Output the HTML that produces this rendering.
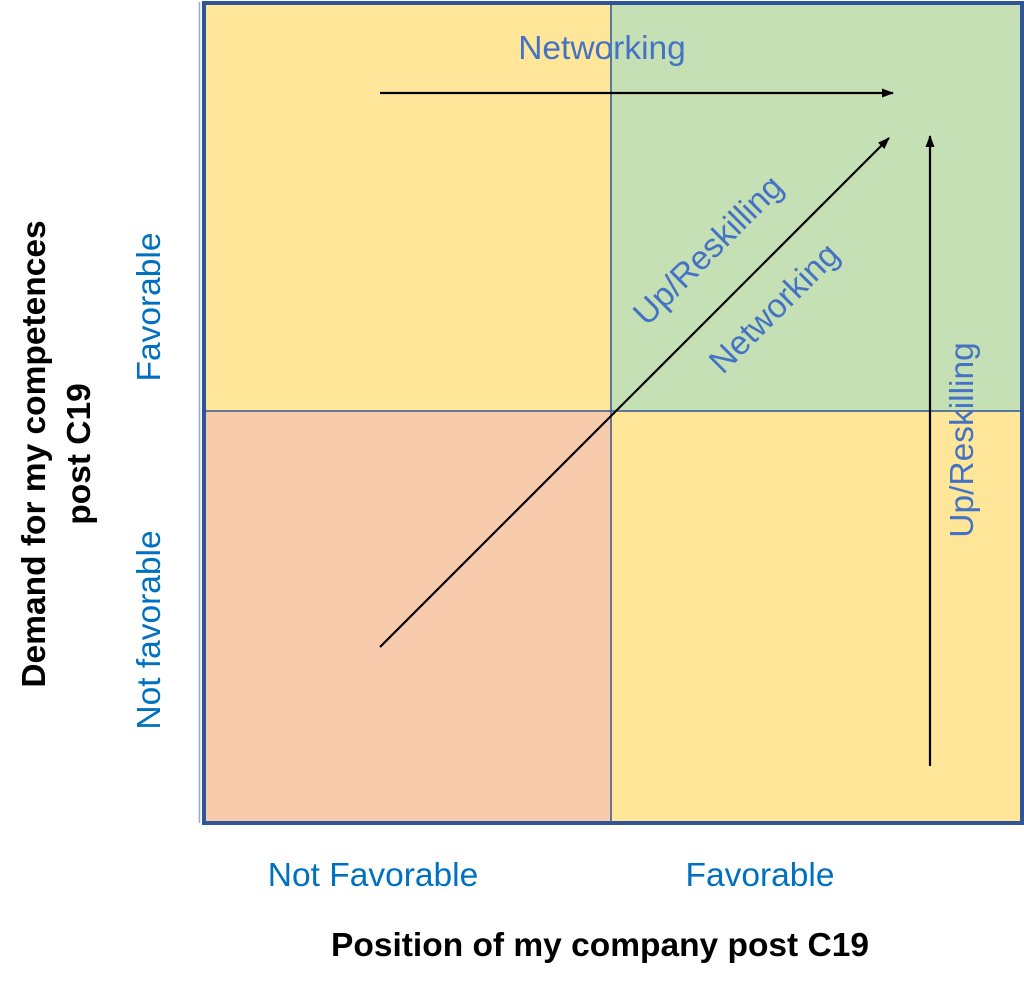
<!DOCTYPE html>
<html><head><style>
body{margin:0;background:#fff;}
</style></head><body>
<svg width="1024" height="986" xmlns="http://www.w3.org/2000/svg" style="display:block">
<defs><marker id="a" markerWidth="12" markerHeight="9" refX="11" refY="4.5" orient="auto" markerUnits="userSpaceOnUse"><path d="M0,0 L12,4.5 L0,9 z" fill="#000"/></marker></defs>
<rect x="206" y="5" width="405" height="406" fill="#FFE699"/>
<rect x="611" y="5" width="409" height="406" fill="#C5E0B4"/>
<rect x="206" y="411" width="405" height="410" fill="#F8CBAD"/>
<rect x="611" y="411" width="409" height="410" fill="#FFE699"/>
<line x1="611" y1="5" x2="611" y2="821" stroke="#2F5597" stroke-width="1.5"/>
<line x1="206" y1="411" x2="1020" y2="411" stroke="#2F5597" stroke-width="1.5"/>
<line x1="199.5" y1="2" x2="199.5" y2="823" stroke="#8FAADC" stroke-width="1.5"/>
<rect x="204" y="3" width="818" height="820" fill="none" stroke="#2F5597" stroke-width="4"/>
<line x1="380" y1="93" x2="893" y2="93" stroke="#000" stroke-width="2.2" marker-end="url(#a)"/>
<line x1="380" y1="647" x2="889" y2="138" stroke="#000" stroke-width="2.2" marker-end="url(#a)"/>
<line x1="930" y1="766" x2="930" y2="136" stroke="#000" stroke-width="2.2" marker-end="url(#a)"/>
<g font-family="Liberation Sans, sans-serif" font-size="33.5" fill="#4472C4" text-anchor="middle">
<text x="602" y="59">Networking</text>
<text transform="translate(716,258) rotate(-45)">Up/Reskilling</text>
<text transform="translate(782,316) rotate(-45)">Networking</text>
<text transform="translate(973,440) rotate(-90)">Up/Reskilling</text>
</g>
<g font-family="Liberation Sans, sans-serif" font-size="33.5" fill="#0070C0" text-anchor="middle">
<text transform="translate(160,307) rotate(-90)">Favorable</text>
<text transform="translate(160,630) rotate(-90)">Not favorable</text>
<text x="373" y="886">Not Favorable</text>
<text x="760" y="886">Favorable</text>
</g>
<g font-family="Liberation Sans, sans-serif" font-size="33.5" font-weight="bold" fill="#000" text-anchor="middle">
<text transform="translate(45,454) rotate(-90)">Demand for my competences</text>
<text transform="translate(90,454) rotate(-90)">post C19</text>
<text x="600" y="956">Position of my company post C19</text>
</g>
</svg>
</body></html>
